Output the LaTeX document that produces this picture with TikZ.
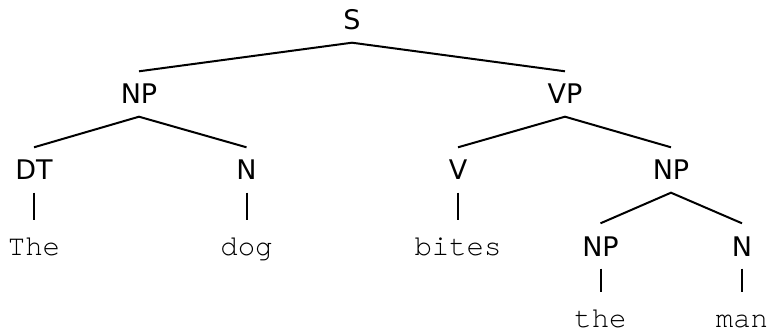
\documentclass[tikz,border=0pt]{standalone}
\usepackage{fontspec}
\newfontfamily\labelfont{DejaVu Sans}
\newfontfamily\wordfont{TeX Gyre Cursor}
\begin{document}
\begin{tikzpicture}[x=1pt,y=-1pt,
  cat/.style={anchor=base,inner xsep=0pt,inner ysep=12.5pt,text height=20pt,text depth=0pt,font=\labelfont\fontsize{27}{32}\selectfont},
  word/.style={anchor=base,inner sep=0pt,text height=35pt,text depth=0pt,font=\wordfont\fontsize{29}{34}\selectfont},
  edge/.style={line width=2pt}]
\useasboundingbox (0,0) rectangle (768,331);
% phrase and part-of-speech labels
\node[cat] (s)   at (352,30)    {S};
\node[cat] (np1) at (139,104)   {NP};
\node[cat] (vp)  at (565,104)   {VP};
\node[cat] (dt)  at (34,180)    {DT};
\node[cat] (n1)  at (246.5,180) {N};
\node[cat] (v)   at (458,180)   {V};
\node[cat] (np2) at (671,180)   {NP};
\node[cat] (np3) at (600.5,256) {NP};
\node[cat] (n2)  at (742,256)   {N};
% leaf words
\node[word] (w1) at (34,255)    {The};
\node[word] (w2) at (246.5,255) {dog};
\node[word] (w3) at (458,255)   {bites};
\node[word] (w4) at (600.5,327) {the};
\node[word] (w5) at (742,327)   {man};
% branches
\draw[edge] (np1.north) -- (s.south) -- (vp.north);
\draw[edge] (dt.north) -- (np1.south) -- (n1.north);
\draw[edge] (v.north) -- (vp.south) -- (np2.north);
\draw[edge] (np3.north) -- (np2.south) -- (n2.north);
\draw[edge] (dt.south) -- (w1.north);
\draw[edge] (n1.south) -- (w2.north);
\draw[edge] (v.south) -- (w3.north);
\draw[edge] (np3.south) -- (w4.north);
\draw[edge] (n2.south) -- (w5.north);
\end{tikzpicture}
\end{document}
